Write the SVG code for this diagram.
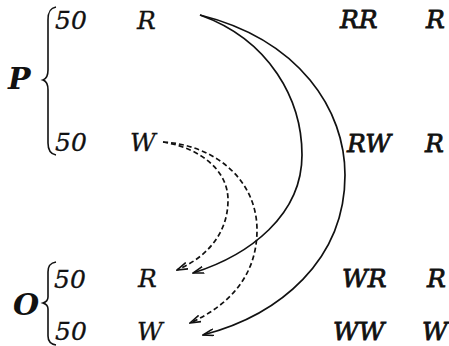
<svg xmlns="http://www.w3.org/2000/svg" width="449" height="346" viewBox="0 0 449 346">
<style>
text{font-family:"DejaVu Serif","Liberation Serif",serif;font-style:italic;font-size:25px;fill:#111;stroke:#111;stroke-width:0.3px}
.big{font-size:30px;font-weight:bold;stroke-width:0}
.heavy{stroke-width:0.8px}
.brace{fill:none;stroke:#111;stroke-width:1.6}
.con{fill:none;stroke:#111;stroke-width:1.7}
.dash{stroke-dasharray:5 3}
</style>
<defs>
<marker id="ah" viewBox="0 0 12 8" refX="11" refY="4" markerWidth="12" markerHeight="8" markerUnits="userSpaceOnUse" orient="auto">
<path d="M0,0.6 L11,4 L0,7.4" fill="none" stroke="#111" stroke-width="1.6"/>
</marker>
</defs>
<rect width="449" height="346" fill="#fff"/>
<g id="P">
<text class="big" x="8" y="89">P</text>
<path class="brace" d="M56,7 C50,8 48,12 48,20 L48,70 C48,76 46,79 43,80 C46,81 48,84 48,90 L48,143 C48,150 50,154 56,155"/>
<text x="55" y="29">50</text>
<text x="55" y="151">50</text>
</g>
<g id="O">
<text class="big" x="13" y="315">O</text>
<path class="brace" d="M56,262 C50,263 48,266 48,272 L48,297 C48,300 46,302 43,303 C46,304 48,306 48,309 L48,336 C48,341 50,344 56,345"/>
<text x="54" y="288">50</text>
<text x="55" y="340">50</text>
</g>
<g id="P-R"><text x="137" y="29">R</text></g>
<g id="P-W"><text x="130" y="151">W</text></g>
<g id="O-R"><text x="138" y="287">R</text></g>
<g id="O-W"><text x="137" y="340">W</text></g>
<g id="RR"><text class="heavy" x="340" y="28">RR</text><text class="heavy" x="426" y="28">R</text></g>
<g id="RW"><text class="heavy" x="347" y="152">RW</text><text class="heavy" x="425" y="152">R</text></g>
<g id="WR"><text class="heavy" x="342" y="287">WR</text><text class="heavy" x="427" y="287">R</text></g>
<g id="WW"><text class="heavy" x="333" y="340">WW</text><text class="heavy" x="422" y="340">W</text></g>
<g id="connectors">
<path class="con" marker-end="url(#ah)" d="M200,15 C270,40 302,100 302,155 C302,215 250,255 193,273"/>
<path class="con" marker-end="url(#ah)" d="M200,15 C300,40 345,110 345,175 C345,260 280,315 203,335"/>
<path class="con dash" marker-end="url(#ah)" d="M163,142 C200,148 228,170 228,200 C228,235 205,258 177,270"/>
<path class="con dash" marker-end="url(#ah)" d="M163,142 C215,145 257,180 257,230 C257,275 230,305 190,323"/>
</g>
</svg>
